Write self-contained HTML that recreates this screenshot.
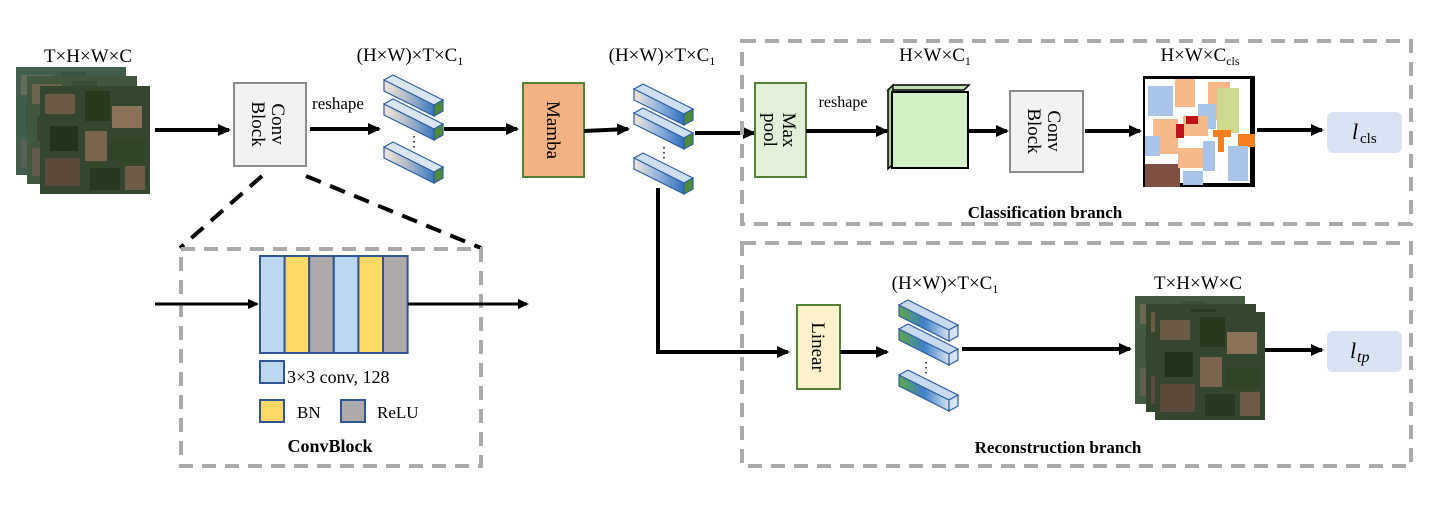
<!DOCTYPE html>
<html><head><meta charset="utf-8"><style>
body{margin:0;background:#fff;}
text{font-family:"Liberation Serif",serif;fill:#000;}
</style></head><body>
<svg width="1440" height="507" viewBox="0 0 1440 507" xmlns="http://www.w3.org/2000/svg">
<defs>
<marker id="ah" markerWidth="13" markerHeight="12" refX="11" refY="6" orient="auto" markerUnits="userSpaceOnUse" viewBox="0 0 13 12"><path d="M0,0 L13,6 L0,12 z" fill="#000"/></marker>
<marker id="ahs" markerWidth="11" markerHeight="10" refX="9" refY="5" orient="auto" markerUnits="userSpaceOnUse" viewBox="0 0 11 10"><path d="M0,0 L11,5 L0,10 z" fill="#000"/></marker>
<linearGradient id="g1" x1="0" y1="0" x2="1" y2="0"><stop offset="0" stop-color="#f3e6da"/><stop offset="0.5" stop-color="#a9b6c6"/><stop offset="1" stop-color="#3a78c2"/></linearGradient>
<linearGradient id="g2" x1="0" y1="0" x2="1" y2="0"><stop offset="0" stop-color="#f3e6da"/><stop offset="0.5" stop-color="#8fb2dc"/><stop offset="1" stop-color="#2f6fbf"/></linearGradient>
<linearGradient id="g3" x1="0" y1="0" x2="1" y2="0"><stop offset="0" stop-color="#5ba84a"/><stop offset="0.5" stop-color="#3f7fc8"/><stop offset="1" stop-color="#d6e2f2"/></linearGradient>
<g id="barA"><polygon points="0,5 50,30 50,41 0,16" fill="url(#g1)" stroke="#2e5fa6" stroke-width="1.2"/><polygon points="0,5 9,0 59,25 50,30" fill="#dbe6f4" stroke="#2e5fa6" stroke-width="1.2"/><polygon points="50,30 59,25 59,36 50,41" fill="#4e8a3a" stroke="#2e5fa6" stroke-width="1.2"/></g>
<g id="barB"><polygon points="0,5 50,30 50,41 0,16" fill="url(#g2)" stroke="#2e5fa6" stroke-width="1.2"/><polygon points="0,5 9,0 59,25 50,30" fill="#cfdff3" stroke="#2e5fa6" stroke-width="1.2"/><polygon points="50,30 59,25 59,36 50,41" fill="#4e8a3a" stroke="#2e5fa6" stroke-width="1.2"/></g>
<g id="barC"><polygon points="0,5 50,30 50,41 0,16" fill="url(#g3)" stroke="#2e5fa6" stroke-width="1.2"/><polygon points="0,5 9,0 59,25 50,30" fill="#c7d9ee" stroke="#2e5fa6" stroke-width="1.2"/><polygon points="50,30 59,25 59,36 50,41" fill="#d6e2f2" stroke="#2e5fa6" stroke-width="1.2"/></g>
<g id="sat">
<rect width="110" height="108" fill="#34472e"/>
<rect x="5" y="8" width="30" height="20" fill="#6b5a45"/><rect x="45" y="5" width="25" height="30" fill="#26391f"/>
<rect x="72" y="20" width="30" height="22" fill="#8a7358"/><rect x="10" y="40" width="28" height="25" fill="#22331c"/>
<rect x="45" y="45" width="22" height="30" fill="#7a6450"/><rect x="70" y="55" width="35" height="20" fill="#2f4427"/>
<rect x="5" y="72" width="35" height="28" fill="#5b4a3c"/><rect x="50" y="82" width="30" height="22" fill="#263820"/>
<rect x="85" y="80" width="20" height="24" fill="#6e5c48"/>
</g>
</defs>

<!-- input stack -->
<g transform="translate(16,67)"><use href="#sat"/><rect width="110" height="108" fill="#5a8a80" opacity="0.35"/></g>
<g transform="translate(27,76)"><use href="#sat"/><rect width="110" height="108" fill="#6a8a70" opacity="0.25"/></g>
<g transform="translate(40,86)"><use href="#sat"/></g>
<text x="88" y="62" font-size="19" text-anchor="middle">T×H×W×C</text>

<line x1="155" y1="130" x2="229" y2="130" stroke="#000" stroke-width="4" marker-end="url(#ah)"/>
<rect x="234" y="83" width="72" height="83" fill="#f2f2f2" stroke="#8c8c8c" stroke-width="2"/>
<text transform="translate(270,124) rotate(90)" font-size="19" text-anchor="middle" dy="-2">Conv</text>
<text transform="translate(270,124) rotate(90)" font-size="19" text-anchor="middle" dy="18">Block</text>
<text x="338" y="109" font-size="17" text-anchor="middle">reshape</text>
<line x1="310" y1="129" x2="379" y2="129" stroke="#000" stroke-width="4" marker-end="url(#ah)"/>

<text x="410" y="61" font-size="19" text-anchor="middle">(H×W)×T×C<tspan font-size="12" dy="4">1</tspan></text>
<use href="#barA" x="384" y="75"/><use href="#barA" x="384" y="99"/><use href="#barA" x="384" y="142"/>
<text x="407" y="146" font-size="14">⋮</text>

<line x1="444" y1="129" x2="517" y2="129" stroke="#000" stroke-width="4" marker-end="url(#ah)"/>
<rect x="523" y="83" width="61" height="94" fill="#f4b183" stroke="#548235" stroke-width="2"/>
<text transform="translate(553,130) rotate(90)" font-size="19" text-anchor="middle" dy="6">Mamba</text>
<line x1="584" y1="131" x2="628" y2="129" stroke="#000" stroke-width="4" marker-end="url(#ah)"/>

<text x="662" y="61" font-size="19" text-anchor="middle">(H×W)×T×C<tspan font-size="12" dy="4">1</tspan></text>
<use href="#barB" x="634" y="84"/><use href="#barB" x="634" y="108"/><use href="#barB" x="634" y="153"/>
<text x="657" y="157" font-size="14">⋮</text>
<line x1="695" y1="133" x2="754" y2="133" stroke="#000" stroke-width="4" marker-end="url(#ah)"/>

<!-- down to reconstruction -->
<polyline points="658,188 658,352 788,352" fill="none" stroke="#000" stroke-width="4" marker-end="url(#ah)"/>

<!-- classification -->
<rect x="742" y="41" width="669" height="183" fill="none" stroke="#aaa" stroke-width="4" stroke-dasharray="14,9"/>
<text x="935" y="61" font-size="19" text-anchor="middle">H×W×C<tspan font-size="12" dy="4">1</tspan></text>
<rect x="755" y="83" width="51" height="94" fill="#e2efd9" stroke="#548235" stroke-width="2"/>
<text transform="translate(780,130) rotate(90)" font-size="19" text-anchor="middle" dy="-3">Max</text>
<text transform="translate(780,130) rotate(90)" font-size="19" text-anchor="middle" dy="16">pool</text>
<text x="843" y="107" font-size="16" text-anchor="middle">reshape</text>
<line x1="806" y1="131" x2="887" y2="131" stroke="#000" stroke-width="4" marker-end="url(#ah)"/>
<polygon points="888,90 893,85 969,85 964,90" fill="#c5e0b4" stroke="#000" stroke-width="1.5"/>
<polygon points="888,90 893,85 893,164 888,169" fill="#a9d18e" stroke="#000" stroke-width="1.5"/>
<rect x="892" y="92" width="76" height="76" fill="#d5efc6" stroke="#000" stroke-width="2"/>
<line x1="969" y1="131" x2="1007" y2="131" stroke="#000" stroke-width="4" marker-end="url(#ah)"/>
<rect x="1010" y="91" width="73" height="81" fill="#f2f2f2" stroke="#8c8c8c" stroke-width="2"/>
<text transform="translate(1046,131) rotate(90)" font-size="19" text-anchor="middle" dy="-2">Conv</text>
<text transform="translate(1046,131) rotate(90)" font-size="19" text-anchor="middle" dy="18">Block</text>
<line x1="1085" y1="131" x2="1140" y2="131" stroke="#000" stroke-width="4" marker-end="url(#ah)"/>
<text x="1200" y="61" font-size="19" text-anchor="middle">H×W×C<tspan font-size="12" dy="4">cls</tspan></text>
<g transform="translate(1143,76)">
<rect width="112" height="111" fill="#000"/>
<rect x="2" y="3" width="105" height="104" fill="#fff"/>
<rect x="5" y="10" width="25" height="30" fill="#a9c4e8"/><rect x="32" y="3" width="20" height="28" fill="#f7b98a"/>
<rect x="65" y="6" width="22" height="38" fill="#f7b98a"/><rect x="74" y="12" width="22" height="45" fill="#ccd98f"/>
<rect x="55" y="28" width="18" height="25" fill="#a9c4e8"/><rect x="40" y="40" width="25" height="20" fill="#f7b98a"/>
<rect x="10" y="43" width="25" height="35" fill="#f7b98a"/><rect x="33" y="48" width="8" height="14" fill="#c0141a"/>
<rect x="43" y="40" width="12" height="8" fill="#c0141a"/><rect x="70" y="54" width="18" height="7" fill="#f57f1e"/>
<rect x="75" y="56" width="6" height="20" fill="#f57f1e"/><rect x="95" y="58" width="17" height="13" fill="#f57f1e"/>
<rect x="2" y="60" width="15" height="20" fill="#a9c4e8"/><rect x="60" y="65" width="12" height="30" fill="#a9c4e8"/>
<rect x="85" y="70" width="20" height="35" fill="#a9c4e8"/><rect x="2" y="88" width="35" height="23" fill="#7f4f44"/>
<rect x="35" y="72" width="25" height="20" fill="#f7b98a"/><rect x="40" y="95" width="20" height="14" fill="#a9c4e8"/>
</g>
<line x1="1257" y1="130" x2="1322" y2="130" stroke="#000" stroke-width="4" marker-end="url(#ah)"/>
<rect x="1327" y="112" width="75" height="41" rx="6" fill="#dae3f3"/>
<text x="1352" y="139" font-size="22" font-style="italic">l</text><text x="1360" y="143" font-size="15">cls</text>
<text x="1045" y="218" font-size="17" font-weight="bold" text-anchor="middle">Classification branch</text>

<!-- reconstruction -->
<rect x="742" y="243" width="669" height="223" fill="none" stroke="#aaa" stroke-width="4" stroke-dasharray="14,9"/>
<rect x="797" y="305" width="43" height="84" fill="#fff2cc" stroke="#548235" stroke-width="2"/>
<text transform="translate(818,347) rotate(90)" font-size="19" text-anchor="middle" dy="6">Linear</text>
<line x1="840" y1="352" x2="887" y2="352" stroke="#000" stroke-width="4" marker-end="url(#ah)"/>
<text x="945" y="289" font-size="19" text-anchor="middle">(H×W)×T×C<tspan font-size="12" dy="4">1</tspan></text>
<use href="#barC" x="899" y="300"/><use href="#barC" x="899" y="324"/><use href="#barC" x="899" y="370"/>
<text x="919" y="372" font-size="14">⋮</text>
<line x1="962" y1="349" x2="1130" y2="349" stroke="#000" stroke-width="4" marker-end="url(#ah)"/>
<text x="1198" y="289" font-size="19" text-anchor="middle">T×H×W×C</text>
<g transform="translate(1135,296)"><use href="#sat"/><rect width="110" height="108" fill="#6a8a70" opacity="0.3"/></g>
<g transform="translate(1146,304)"><use href="#sat"/></g>
<g transform="translate(1155,312)"><use href="#sat"/></g>
<line x1="1265" y1="350" x2="1322" y2="350" stroke="#000" stroke-width="4" marker-end="url(#ah)"/>
<rect x="1327" y="331" width="75" height="41" rx="6" fill="#dae3f3"/>
<text x="1350" y="358" font-size="22" font-style="italic">l</text><text x="1357" y="362" font-size="16" font-style="italic">tp</text>
<text x="1058" y="453" font-size="17" font-weight="bold" text-anchor="middle">Reconstruction branch</text>

<!-- convblock inset -->
<line x1="262" y1="176" x2="180" y2="248" stroke="#000" stroke-width="4" stroke-dasharray="16,10"/>
<line x1="306" y1="176" x2="481" y2="248" stroke="#000" stroke-width="4" stroke-dasharray="16,10"/>
<rect x="181" y="249" width="300" height="217" fill="none" stroke="#aaa" stroke-width="4" stroke-dasharray="14,9"/>
<line x1="155" y1="304" x2="257" y2="304" stroke="#000" stroke-width="3" marker-end="url(#ahs)"/>
<g stroke="#2f5597" stroke-width="2">
<rect x="260" y="256" width="24.6" height="97" fill="#bdd7ee"/>
<rect x="284.6" y="256" width="24.6" height="97" fill="#ffd966"/>
<rect x="309.2" y="256" width="24.6" height="97" fill="#aeaaaa"/>
<rect x="333.8" y="256" width="24.6" height="97" fill="#bdd7ee"/>
<rect x="358.4" y="256" width="24.6" height="97" fill="#ffd966"/>
<rect x="383" y="256" width="24.6" height="97" fill="#aeaaaa"/>
<rect x="260" y="361" width="24" height="22" fill="#bdd7ee"/>
<rect x="260" y="400" width="24" height="22" fill="#ffd966"/>
<rect x="341" y="400" width="24" height="22" fill="#aeaaaa"/>
</g>
<line x1="408" y1="304" x2="527" y2="304" stroke="#000" stroke-width="3" marker-end="url(#ahs)"/>
<text x="287" y="383" font-size="18">3×3 conv, 128</text>
<text x="297" y="418" font-size="17">BN</text>
<text x="377" y="418" font-size="17">ReLU</text>
<text x="330" y="452" font-size="18" font-weight="bold" text-anchor="middle">ConvBlock</text>
</svg>
</body></html>
